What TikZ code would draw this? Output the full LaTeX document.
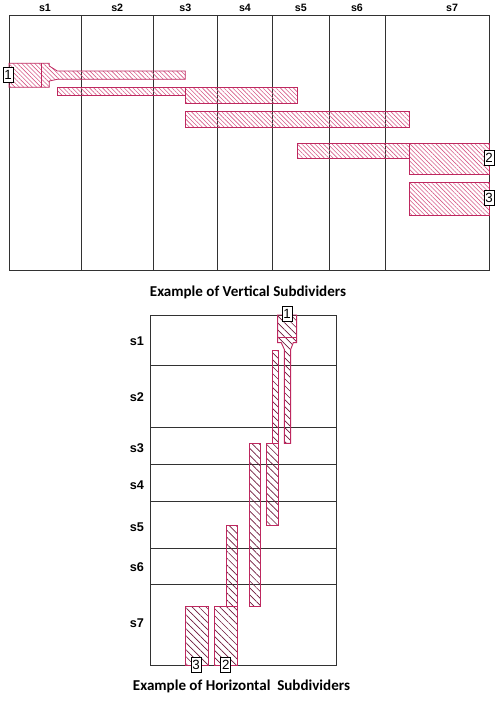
\documentclass[tikz,border=0pt]{standalone}
\usepackage{fontspec}
\setmainfont{Liberation Sans}
\newfontfamily\capfont{Carlito}
\usetikzlibrary{patterns.meta}
\definecolor{barline}{RGB}{190,40,95}
\definecolor{tophatch}{RGB}{214,90,135}
\definecolor{bothatch}{RGB}{110,25,60}
\definecolor{gridline}{RGB}{50,50,50}

\begin{document}
\begin{tikzpicture}[x=0.75pt,y=-0.75pt,
	frame/.style={draw=gridline,line width=0.6pt},
	vbar/.style={draw=barline,line width=0.6pt,pattern={Lines[angle=-45,distance=2.3pt,line width=0.45pt]},pattern color=tophatch},
	hbar/.style={draw=barline,line width=0.7pt,pattern={Lines[angle=-45,distance=3.7pt,line width=0.5pt]},pattern color=bothatch},
	colhead/.style={font=\bfseries\fontsize{8}{8}\selectfont},
	rowhead/.style={font=\bfseries\fontsize{9.5}{9.5}\selectfont},
	numbox/.style={draw=black,fill=white,line width=0.6pt,inner sep=0pt,minimum width=7.5pt,minimum height=11pt,font=\fontsize{10}{10}\selectfont},
	caption/.style={font=\capfont\bfseries\fontsize{11.3}{13}\selectfont}]
	\useasboundingbox (0,0) rectangle (496,701);

	% vertical subdividers
	\draw[frame] (9,15) rectangle (489.3,270.7);
	\draw[frame] (81,15) -- (81,270.7);
	\draw[frame] (153.3,15) -- (153.3,270.7);
	\draw[frame] (217.3,15) -- (217.3,270.7);
	\draw[frame] (272.7,15) -- (272.7,270.7);
	\draw[frame] (329,15) -- (329,270.7);
	\draw[frame] (385,15) -- (385,270.7);

	\node[colhead] (s1) at (45,8) {s1};
	\node[colhead] (s2) at (117.2,8) {s2};
	\node[colhead] (s3) at (185.3,8) {s3};
	\node[colhead] (s4) at (245,8) {s4};
	\node[colhead] (s5) at (300.8,8) {s5};
	\node[colhead] (s6) at (357,8) {s6};
	\node[colhead] (s7) at (452,8) {s7};

	\draw[vbar] (9,63.3) -- (49.3,63.3) -- (49.3,66) -- (57.3,71) -- (185.3,71) -- (185.3,79.3) -- (57.3,79.3) -- (49.3,81) -- (49.3,87.3) -- (9,87.3) -- cycle;
	\draw[draw=barline,line width=0.6pt] (41,63.3) -- (41,87.3);
	\draw[vbar] (57.3,87.3) rectangle (185.3,95.7);
	\draw[vbar] (185.3,87.3) rectangle (297.3,103.7);
	\draw[vbar] (185.3,111.7) rectangle (409.3,127.3);
	\draw[vbar] (297.3,143.3) rectangle (409.3,158.3);
	\draw[vbar] (409.3,143.3) rectangle (489.3,174.3);
	\draw[vbar] (409.3,182.3) rectangle (489.3,215);

	\node[numbox] (v1) at (8,74.7) {1};
	\node[numbox] (v2) at (489,158) {2};
	\node[numbox] (v3) at (489,198.2) {3};

	\node[caption] (vcap) at (248,292) {Example of Vertical Subdividers};

	% horizontal subdividers
	\draw[frame] (150.7,315) rectangle (336.7,665);
	\draw[frame] (150.7,365.7) -- (336.7,365.7);
	\draw[frame] (150.7,427.3) -- (336.7,427.3);
	\draw[frame] (150.7,464) -- (336.7,464);
	\draw[frame] (150.7,501.7) -- (336.7,501.7);
	\draw[frame] (150.7,548.3) -- (336.7,548.3);
	\draw[frame] (150.7,584.3) -- (336.7,584.3);

	\node[rowhead] (r1) at (137,341) {s1};
	\node[rowhead] (r2) at (137,396.7) {s2};
	\node[rowhead] (r3) at (137,447.7) {s3};
	\node[rowhead] (r4) at (137,485) {s4};
	\node[rowhead] (r5) at (137,526.7) {s5};
	\node[rowhead] (r6) at (137,566.7) {s6};
	\node[rowhead] (r7) at (137,622.7) {s7};

	\draw[hbar] (277.7,315) -- (296.7,315) -- (296.7,342.7) -- (293.3,342.7) -- (290.7,349.3) -- (290.7,443.3) -- (284.3,443.3) -- (284.3,349.3) -- (281.3,342.7) -- (277.7,342.7) -- cycle;
	\draw[draw=barline,line width=0.7pt] (277.7,337.7) -- (296.7,337.7);
	\draw[hbar] (272.3,350) rectangle (278.3,443.3);
	\draw[hbar] (266.7,443.3) rectangle (278.3,525);
	\draw[hbar] (249.3,443.3) rectangle (260.7,606);
	\draw[hbar] (226,525) rectangle (237.3,606);
	\draw[hbar] (214.3,606) rectangle (237.3,665);
	\draw[hbar] (185,606) rectangle (208.3,665);

	\node[numbox] (h1) at (287.2,314.2) {1};
	\node[numbox] (h2) at (225.8,665) {2};
	\node[numbox] (h3) at (196.2,665) {3};

	\node[caption] (hcap) at (241.5,686) {Example of Horizontal~ Subdividers};
\end{tikzpicture}
\end{document}
